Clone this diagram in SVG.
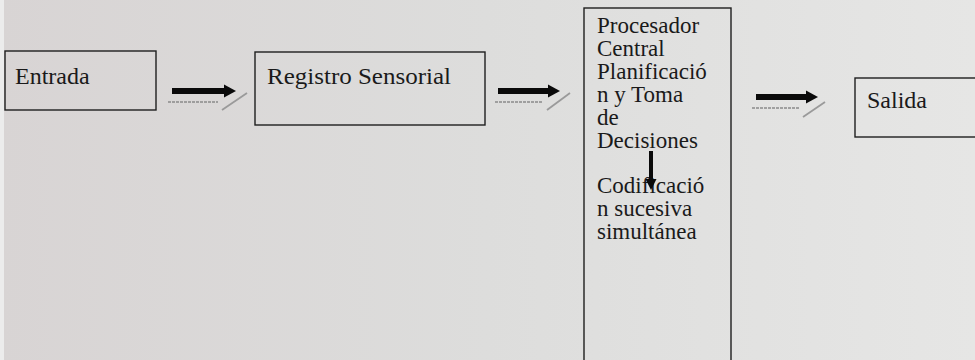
<svg xmlns="http://www.w3.org/2000/svg" width="975" height="360" viewBox="0 0 975 360">
  <style>
    .box { fill: none; stroke: #1e1e1e; stroke-width: 1.4; }
    .lbl { font-family: "Liberation Serif", "Times New Roman", serif; font-size: 24px; fill: #1a1a1a; }
    .pl { font-size: 23px; }
    .shaft { stroke: #0a0a0a; stroke-width: 6; fill: none; }
    .head { fill: #0a0a0a; }
    .shadow { stroke: #8a8a8a; stroke-width: 1.5; fill: none; stroke-dasharray: 3 1; }
    .slash { stroke: #9a9a9a; stroke-width: 1.8; fill: none; }
  </style>
  <defs>
    <linearGradient id="bg" x1="0" y1="0" x2="1" y2="0">
      <stop offset="0" stop-color="#d8d4d4"/>
      <stop offset="0.5" stop-color="#dddddc"/>
      <stop offset="1" stop-color="#e6e6e5"/>
    </linearGradient>
  </defs>
  <rect x="0" y="0" width="975" height="360" fill="url(#bg)"/>
  <rect x="0" y="0" width="4" height="360" fill="#ececec"/>

  <g id="entrada">
    <rect class="box" x="5" y="51" width="151" height="59"/>
    <text class="lbl" x="15" y="84">Entrada</text>
  </g>

  <g id="registro">
    <rect class="box" x="255" y="52" width="230" height="73"/>
    <text class="lbl" x="267" y="84" textLength="184" lengthAdjust="spacingAndGlyphs">Registro Sensorial</text>
  </g>

  <g id="procesador">
    <rect class="box" x="584" y="8" width="147" height="360"/>
    <text class="lbl pl" x="597" y="33">Procesador</text>
    <text class="lbl pl" x="597" y="56">Central</text>
    <text class="lbl pl" x="597" y="79">Planificació</text>
    <text class="lbl pl" x="597" y="102">n y Toma</text>
    <text class="lbl pl" x="597" y="125">de</text>
    <text class="lbl pl" x="597" y="148">Decisiones</text>
    <text class="lbl pl" x="597" y="193">Codificació</text>
    <text class="lbl pl" x="597" y="216">n sucesiva</text>
    <text class="lbl pl" x="597" y="239">simultánea</text>
  </g>

  <g id="salida">
    <rect class="box" x="855" y="78" width="130" height="59"/>
    <text class="lbl" x="867" y="108">Salida</text>
  </g>

  <g id="connectors">
    <line class="shaft" x1="172" y1="91" x2="226" y2="91"/>
    <polygon class="head" points="224,84.5 236,91 224,97.5"/>
    <line class="shadow" x1="168" y1="102" x2="218" y2="102"/>
    <line class="slash" x1="222" y1="110" x2="247" y2="93"/>

    <line class="shaft" x1="498" y1="91" x2="550" y2="91"/>
    <polygon class="head" points="548,84.5 560,91 548,97.5"/>
    <line class="shadow" x1="495" y1="102" x2="543" y2="102"/>
    <line class="slash" x1="547" y1="110" x2="570" y2="93"/>

    <line class="shaft" x1="756" y1="97" x2="808" y2="97"/>
    <polygon class="head" points="806,90.5 818,97 806,103.5"/>
    <line class="shadow" x1="752" y1="108" x2="800" y2="108"/>
    <line class="slash" x1="803" y1="117" x2="825" y2="102"/>

    <line class="shaft" x1="651" y1="151" x2="651" y2="181" style="stroke-width:4"/>
    <polygon class="head" points="645.5,179 656.5,179 651,190"/>
  </g>
</svg>
